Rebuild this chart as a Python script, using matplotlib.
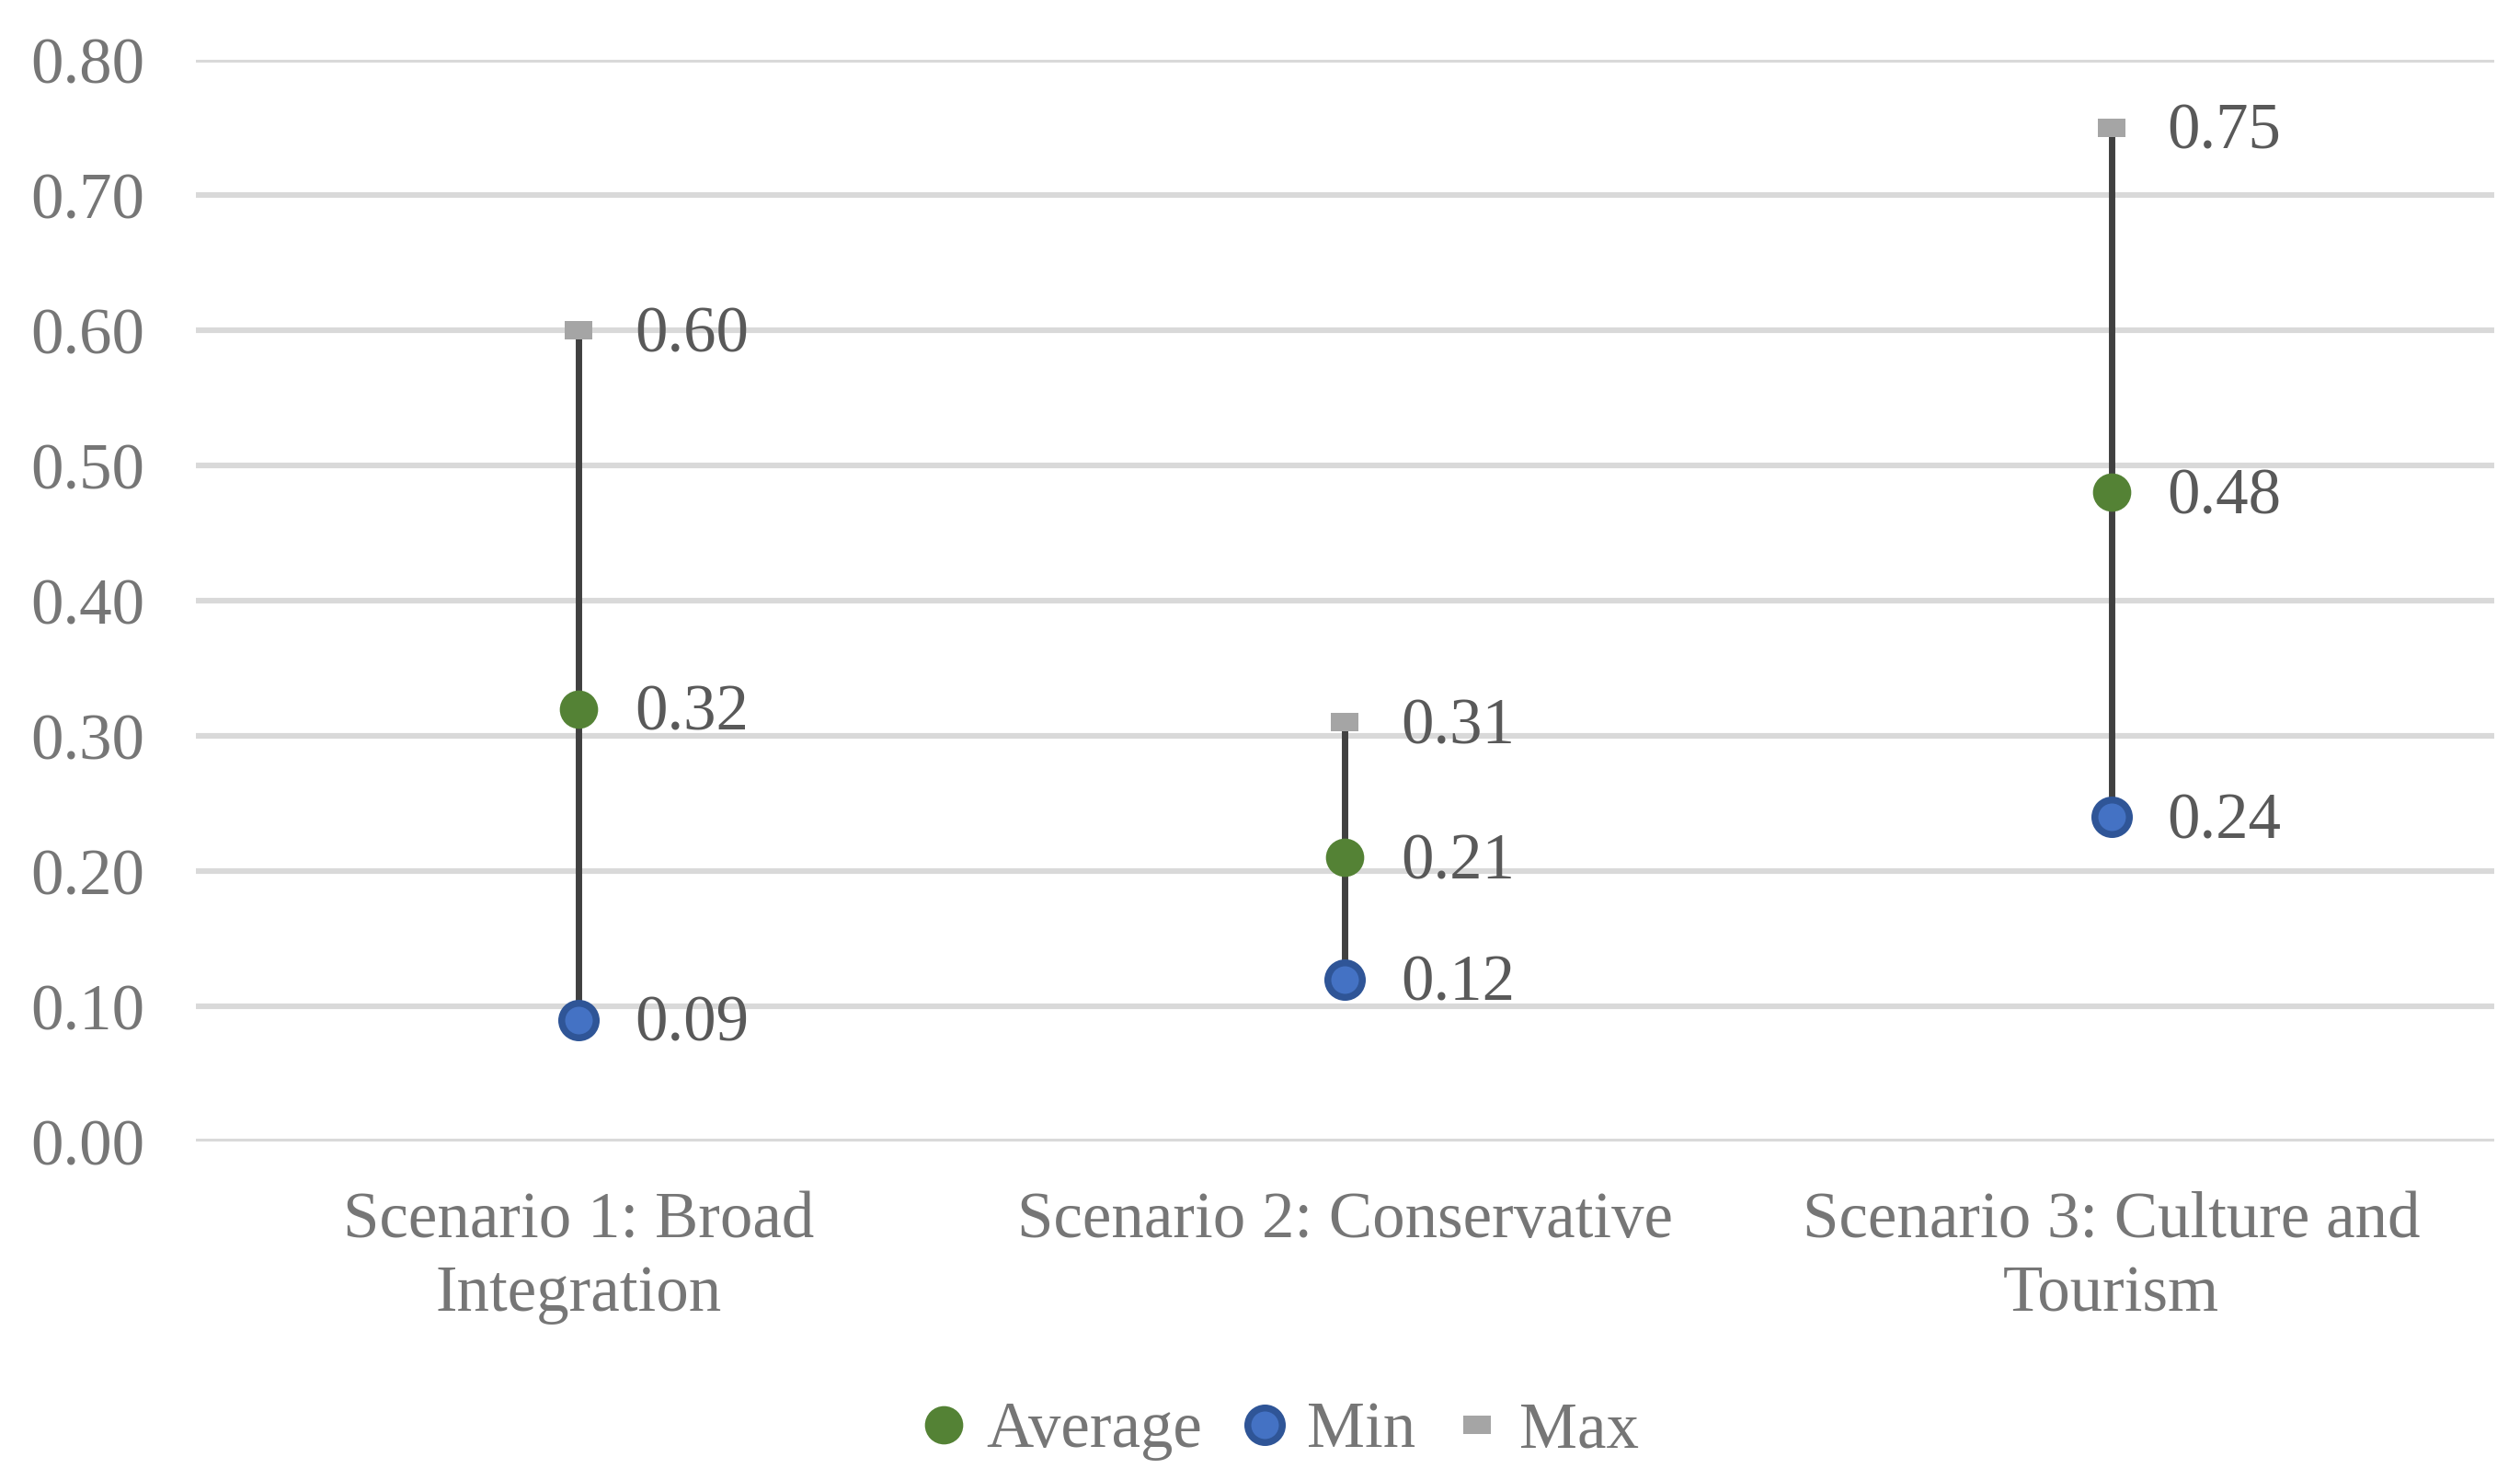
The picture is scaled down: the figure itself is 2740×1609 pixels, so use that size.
import matplotlib
matplotlib.use('Agg')
import matplotlib.pyplot as plt
from matplotlib.lines import Line2D

# --- Data ---
scenarios = ['Scenario 1: Broad\nIntegration', 'Scenario 2: Conservative',
             'Scenario 3: Culture and\nTourism']
avg_vals = [0.32, 0.21, 0.48]
min_vals = [0.09, 0.12, 0.24]
max_vals = [0.60, 0.31, 0.75]
y_ticks = [0.0, 0.1, 0.2, 0.3, 0.4, 0.5, 0.6, 0.7, 0.8]

plt.rcParams['font.family'] = ['Liberation Serif', 'DejaVu Serif']

green = '#548235'
blue_edge = '#2F5597'
blue_fill = '#4472C4'
gray = '#A5A5A5'
hl_color = '#404040'
tick_color = '#767676'
label_color = '#595959'
fs = 25.5

rect_marker = [(-1.5, -1), (1.5, -1), (1.5, 1), (-1.5, 1), (-1.5, -1)]

fig = plt.figure(figsize=(13.7, 8.045), dpi=200)
ax = fig.add_axes([0.0777, 0.2287, 0.9121, 0.7309])

x = list(range(len(scenarios)))

# high-low lines
ax.vlines(x, min_vals, max_vals, color=hl_color, linewidth=2.5, zorder=2)

ax.plot(x, avg_vals, linestyle='none', marker='o', ms=15, mfc=green, mec=green,
        mew=0, zorder=3, label='Average')
ax.plot(x, min_vals, linestyle='none', marker='o', ms=13.5, mfc=blue_fill, mec=blue_edge,
        mew=2.7, zorder=3, label='Min')
ax.plot(x, max_vals, linestyle='none', marker=rect_marker, ms=10.5, mfc=gray, mec=gray,
        mew=0, zorder=3, label='Max')

# data labels
for vals in (avg_vals, min_vals, max_vals):
    for xi, v in zip(x, vals):
        ax.annotate(f'{v:.2f}', (xi, v), xytext=(22, -2), textcoords='offset points',
                    ha='left', va='center', fontsize=fs, color=label_color)

ax.set_xlim(-0.5, len(scenarios) - 0.5)
ax.set_ylim(0, 0.8)
ax.set_yticks(y_ticks)
ax.set_yticklabels([f'{t:.2f}' for t in y_ticks])
ax.set_xticks(x)
ax.set_xticklabels(scenarios)
ax.tick_params(axis='y', length=0, pad=20, labelsize=fs, labelcolor=tick_color)
ax.tick_params(axis='x', length=0, pad=19.5, labelsize=fs, labelcolor=tick_color)
for lbl in ax.get_xticklabels():
    lbl.set_linespacing(1.3)

for s in ax.spines.values():
    s.set_visible(False)
ax.yaxis.grid(True, color='#D9D9D9', linewidth=2.2)
ax.set_axisbelow(True)

handles = [
    Line2D([], [], linestyle='none', marker='o', ms=15, mfc=green, mec=green, mew=0),
    Line2D([], [], linestyle='none', marker='o', ms=13.5, mfc=blue_fill, mec=blue_edge, mew=2.7),
    Line2D([], [], linestyle='none', marker=rect_marker, ms=10.5, mfc=gray, mec=gray, mew=0),
]
leg = fig.legend(handles, ['Average', 'Min', 'Max'], loc='center', bbox_to_anchor=(0.508, 0.033),
                 ncol=3, frameon=False, fontsize=fs, handlelength=0.7, handletextpad=0.3,
                 columnspacing=0.6)
for t in leg.get_texts():
    t.set_color(tick_color)

fig.savefig('out.png', dpi=200)
